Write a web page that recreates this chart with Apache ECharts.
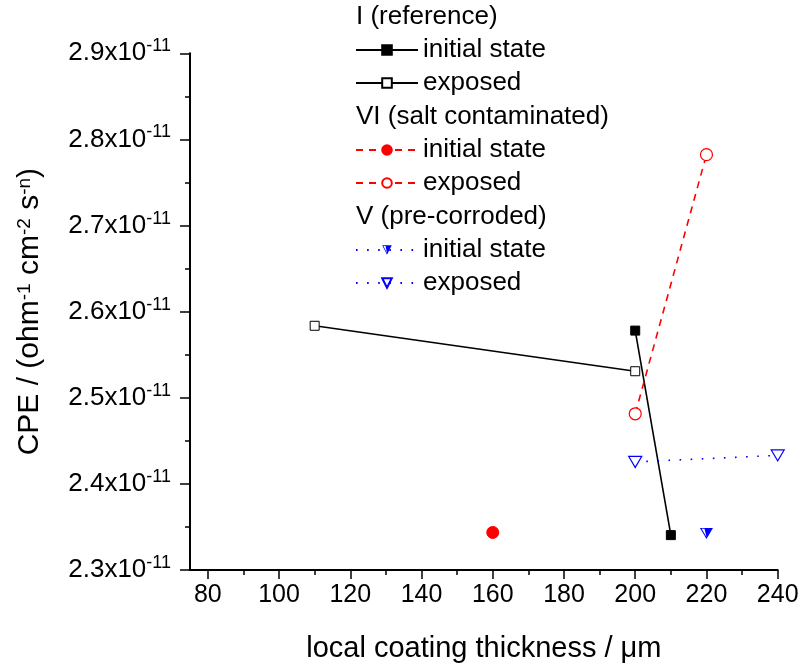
<!DOCTYPE html>
<html><head><meta charset="utf-8">
<script src="https://cdn.jsdelivr.net/npm/echarts@6/dist/echarts.min.js"></script>
<style>html,body{margin:0;padding:0;background:#fff}#c{width:803px;height:668px}</style>
</head><body><div id="c"></div>
<script>
// ---- data ----
const xTicks = [80, 100, 120, 140, 160, 180, 200, 220, 240];
const xMinorTicks = [90, 110, 130, 150, 170, 190, 210, 230];
const refInitial = [[200, 2.578e-11], [210, 2.3405e-11]];
const refExposed = [[110, 2.5836e-11], [200, 2.5308e-11]];
const saltInitial = [[160, 2.3436e-11]];
const saltExposed = [[200, 2.4814e-11], [220, 2.7823e-11]];
const preInitial = [[220, 2.3425e-11]];
const preExposed = [[200, 2.4255e-11], [240, 2.4331e-11]];
const groupHeaders = ['I (reference)', 'VI (salt contaminated)', 'V (pre-corroded)'];
const itemLabels = ['initial state', 'exposed'];

const FONT = 'Liberation Sans, Arial, Helvetica, sans-serif';
const BLUE = '#0000ff', RED = '#ff0000';
const halfTri = 'path://M0,0 L20,0 L10,17 Z M2.6,1.5 L10,14.1 L17.4,1.5 Z M7,1.5 L17.4,1.5 L10,14.1 Z';
const openTri = 'path://M0,0 L20,0 L10,17 Z';

const chart = echarts.init(document.getElementById('c'), null, {renderer: 'canvas'});

const legendCommon = {
  orient: 'vertical', left: 355, padding: 0, itemWidth: 62, itemHeight: 12, itemGap: 7,
  selectedMode: false,
  textStyle: {fontSize: 26, fontFamily: FONT, color: '#000', lineHeight: 26},
  formatter: n => n.split('|')[1]
};

chart.setOption({
  animation: false,
  backgroundColor: '#fff',
  grid: {left: 190, right: 25.3, top: 53.3, bottom: 96.3, containLabel: false},
  xAxis: [{
    type: 'value', min: 75, max: 240, position: 'bottom',
    name: 'local coating thickness / \u03bcm', nameLocation: 'middle', nameGap: 64,
    nameTextStyle: {fontSize: 29, fontFamily: FONT, color: '#000'},
    axisLine: {show: true, onZero: false, lineStyle: {color: '#000', width: 2}},
    axisTick: {show: true, length: 9, customValues: xTicks, lineStyle: {color: '#000', width: 1.5}},
    axisLabel: {show: true, margin: 13, customValues: xTicks, fontSize: 25, fontFamily: FONT, color: '#000'},
    splitLine: {show: false}
  }, {
    type: 'value', min: 75, max: 240, position: 'bottom',
    axisLine: {show: false}, axisLabel: {show: false}, splitLine: {show: false},
    axisTick: {show: true, length: 5, customValues: xMinorTicks, lineStyle: {color: '#000', width: 1.5}}
  }],
  yAxis: {
    type: 'value', min: 2.3e-11, max: 2.9e-11, interval: 1e-12,
    name: 'CPE / (ohm{s|-1} cm{s|-2} s{s|-n})', nameLocation: 'middle', nameGap: 145,
    nameTextStyle: {fontSize: 30, fontFamily: FONT, color: '#000',
      rich: {s: {fontSize: 19, fontFamily: FONT, color: '#000', verticalAlign: 'top'}}},
    axisLine: {show: true, onZero: false, lineStyle: {color: '#000', width: 2}},
    axisTick: {show: true, length: 10, lineStyle: {color: '#000', width: 1.5}},
    minorTick: {show: true, splitNumber: 2, length: 5, lineStyle: {color: '#000', width: 1.5}},
    splitLine: {show: false},
    axisLabel: {
      margin: 19, color: '#000',
      formatter: v => '{m|' + (v * 1e11).toFixed(1) + 'x10}{s|-11}',
      rich: {
        m: {fontSize: 26, fontFamily: FONT, color: '#000', lineHeight: 32},
        s: {fontSize: 18, fontFamily: FONT, color: '#000', verticalAlign: 'top'}
      }
    }
  },
  legend: [
    Object.assign({}, legendCommon, {top: 37, data: ['I|' + itemLabels[0], 'I|' + itemLabels[1]]}),
    Object.assign({}, legendCommon, {top: 137, data: ['VI|' + itemLabels[0], 'VI|' + itemLabels[1]]}),
    Object.assign({}, legendCommon, {top: 237, data: ['V|' + itemLabels[0], 'V|' + itemLabels[1]]})
  ],
  graphic: groupHeaders.map((t, i) => ({
    type: 'text', x: 356, y: 17 + i * 100, silent: true,
    style: {text: t, fontSize: 26, fontFamily: FONT, fill: '#000', verticalAlign: 'middle', align: 'left'}
  })),
  series: [
    {name: 'I|initial state', type: 'line', data: refInitial, symbol: 'rect', symbolSize: 9,
     itemStyle: {color: '#000', borderColor: '#000', borderWidth: 1},
     lineStyle: {color: '#000', width: 1.6, type: 'solid'}},
    {name: 'I|exposed', type: 'line', data: refExposed, symbol: 'rect', symbolSize: 9,
     itemStyle: {color: '#fff', borderColor: '#000', borderWidth: 1},
     lineStyle: {color: '#000', width: 1.6, type: 'solid'}},
    {name: 'VI|initial state', type: 'line', data: saltInitial, symbol: 'circle', symbolSize: 12,
     itemStyle: {color: RED, borderColor: RED, borderWidth: 1},
     lineStyle: {color: RED, width: 1.6, type: [7, 6]}},
    {name: 'VI|exposed', type: 'line', data: saltExposed, symbol: 'circle', symbolSize: 12,
     itemStyle: {color: '#fff', borderColor: RED, borderWidth: 1.2},
     lineStyle: {color: RED, width: 1.6, type: [7, 6]}},
    {name: 'V|initial state', type: 'line', data: preInitial, symbol: halfTri, symbolSize: [13, 11],
     itemStyle: {color: BLUE},
     lineStyle: {color: BLUE, width: 1.6, type: [1.6, 9.5]}},
    {name: 'V|exposed', type: 'line', data: preExposed, symbol: openTri, symbolSize: [13, 11],
     itemStyle: {color: '#fff', borderColor: BLUE, borderWidth: 1.2},
     lineStyle: {color: BLUE, width: 1.6, type: [1.6, 9.5]}}
  ]
});
</script>
</body></html>
